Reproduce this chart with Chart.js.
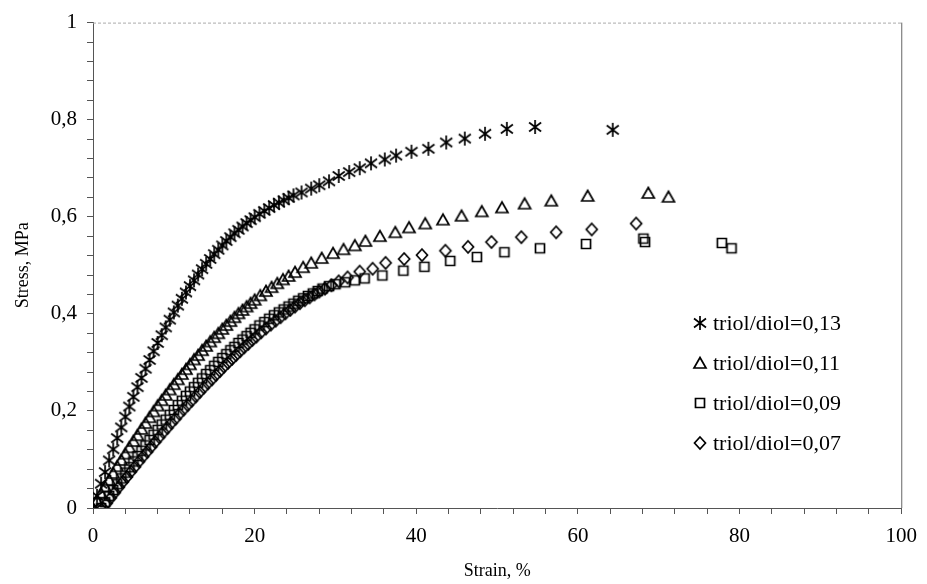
<!DOCTYPE html>
<html>
<head>
<meta charset="utf-8">
<script src="https://cdn.jsdelivr.net/npm/chart.js@4"></script>
<style>
  html, body { margin: 0; padding: 0; background: #fff; }
  #wrap { width: 927px; height: 584px; }
</style>
</head>
<body>
<div id="wrap"><canvas id="c" width="927" height="584"></canvas></div>
<script>
const LABELS = ['triol/diol=0,13', 'triol/diol=0,11', 'triol/diol=0,09', 'triol/diol=0,07'];

const strain13 = [0, 0.5, 1, 1.5, 2, 2.5, 3, 3.5, 4, 4.5, 5, 5.5, 6, 6.5, 7, 7.5, 8, 8.5, 9, 9.5, 10, 10.5, 11, 11.5, 12, 12.5, 13, 13.5, 14, 14.5, 15, 15.5, 16, 16.5, 17, 17.5, 18, 18.5, 19, 19.5, 20, 20.6, 21.2, 21.8, 22.4, 23, 23.6, 24.2, 24.8, 25.8, 27, 28, 29.2, 30.4, 31.7, 33, 34.4, 36.1, 37.5, 39.4, 41.5, 43.7, 46, 48.5, 51.2, 54.7, 64.3];
const stress13 = [0, 0.025, 0.05, 0.074, 0.098, 0.121, 0.144, 0.166, 0.188, 0.209, 0.229, 0.249, 0.268, 0.287, 0.305, 0.323, 0.34, 0.356, 0.372, 0.388, 0.403, 0.417, 0.431, 0.444, 0.457, 0.469, 0.481, 0.492, 0.503, 0.513, 0.523, 0.532, 0.541, 0.55, 0.558, 0.566, 0.573, 0.58, 0.587, 0.593, 0.599, 0.606, 0.612, 0.618, 0.624, 0.629, 0.634, 0.639, 0.644, 0.65, 0.658, 0.665, 0.673, 0.684, 0.692, 0.7, 0.71, 0.718, 0.726, 0.734, 0.74, 0.753, 0.761, 0.771, 0.781, 0.785, 0.779];

const strain11 = [0, 0.5, 1, 1.5, 2, 2.5, 3, 3.5, 4, 4.5, 5, 5.5, 6, 6.5, 7, 7.5, 8, 8.5, 9, 9.5, 10, 10.5, 11, 11.5, 12, 12.5, 13, 13.5, 14, 14.5, 15, 15.5, 16, 16.5, 17, 17.5, 18, 18.5, 19, 19.5, 20, 20.7, 21.4, 22.1, 22.8, 23.5, 24.2, 25, 26, 27, 28.3, 29.7, 31, 32.4, 33.7, 35.5, 37.4, 39.1, 41.1, 43.3, 45.6, 48.1, 50.6, 53.4, 56.7, 61.2, 68.7, 71.2];
const stress11 = [0, 0.015, 0.03, 0.044, 0.058, 0.072, 0.086, 0.099, 0.112, 0.125, 0.138, 0.15, 0.163, 0.175, 0.187, 0.199, 0.211, 0.222, 0.233, 0.244, 0.255, 0.265, 0.276, 0.286, 0.296, 0.306, 0.315, 0.325, 0.334, 0.343, 0.352, 0.36, 0.369, 0.377, 0.385, 0.393, 0.401, 0.408, 0.415, 0.422, 0.429, 0.438, 0.447, 0.455, 0.463, 0.471, 0.478, 0.486, 0.496, 0.505, 0.515, 0.525, 0.533, 0.541, 0.55, 0.56, 0.568, 0.578, 0.586, 0.594, 0.602, 0.611, 0.619, 0.627, 0.633, 0.643, 0.649, 0.641];

const strain09 = [1, 1.5, 2, 2.5, 3, 3.5, 4, 4.5, 5, 5.5, 6, 6.5, 7, 7.5, 8, 8.5, 9, 9.5, 10, 10.5, 11, 11.5, 12, 12.5, 13, 13.5, 14, 14.5, 15, 15.5, 16, 16.5, 17, 17.5, 18, 18.5, 19, 19.5, 20, 20.6, 21.2, 21.8, 22.4, 23, 23.6, 24.2, 24.8, 25.4, 26, 26.6, 27.2, 27.8, 28.4, 29.2, 30, 31.2, 32.4, 33.6, 35.8, 38.4, 41, 44.2, 47.5, 50.9, 55.3, 61, 68.1, 68.3, 77.8, 79];
const stress09 = [0, 0.012, 0.025, 0.037, 0.049, 0.061, 0.073, 0.084, 0.096, 0.107, 0.118, 0.129, 0.14, 0.151, 0.161, 0.172, 0.182, 0.192, 0.202, 0.212, 0.221, 0.231, 0.24, 0.249, 0.258, 0.267, 0.276, 0.284, 0.293, 0.301, 0.309, 0.317, 0.325, 0.332, 0.34, 0.347, 0.354, 0.361, 0.368, 0.376, 0.383, 0.39, 0.397, 0.403, 0.409, 0.415, 0.421, 0.427, 0.432, 0.437, 0.442, 0.447, 0.452, 0.457, 0.461, 0.465, 0.469, 0.473, 0.479, 0.489, 0.497, 0.509, 0.517, 0.527, 0.535, 0.544, 0.555, 0.548, 0.546, 0.535];

const strain07 = [1.2, 1.7, 2.2, 2.7, 3.2, 3.7, 4.2, 4.7, 5.2, 5.7, 6.2, 6.7, 7.2, 7.7, 8.2, 8.7, 9.2, 9.7, 10.2, 10.7, 11.2, 11.7, 12.2, 12.7, 13.2, 13.7, 14.2, 14.7, 15.2, 15.7, 16.2, 16.7, 17.2, 17.7, 18.2, 18.7, 19.2, 19.7, 20.2, 20.8, 21.4, 22, 22.6, 23.2, 23.8, 24.4, 25, 25.6, 26.2, 26.8, 27.4, 28, 28.7, 29.5, 30.4, 31.5, 33, 34.6, 36.2, 38.5, 40.7, 43.6, 46.4, 49.3, 53, 57.3, 61.7, 67.2];
const stress07 = [0, 0.01, 0.021, 0.032, 0.043, 0.054, 0.064, 0.075, 0.085, 0.096, 0.106, 0.116, 0.126, 0.136, 0.146, 0.156, 0.165, 0.175, 0.184, 0.194, 0.203, 0.212, 0.221, 0.23, 0.239, 0.248, 0.257, 0.265, 0.274, 0.282, 0.291, 0.299, 0.307, 0.315, 0.323, 0.331, 0.338, 0.346, 0.353, 0.362, 0.37, 0.378, 0.386, 0.393, 0.401, 0.408, 0.415, 0.422, 0.428, 0.434, 0.44, 0.446, 0.452, 0.459, 0.467, 0.475, 0.487, 0.493, 0.505, 0.513, 0.521, 0.53, 0.538, 0.548, 0.558, 0.568, 0.574, 0.586];

const X_MAJOR = [0, 20, 40, 60, 80, 100];

function pairs(xs, ys) {
  return xs.map((x, i) => ({ x, y: ys[i] }));
}

// hand drawn marker glyphs, like the scanned excel symbols
function marker(kind) {
  const c = document.createElement('canvas');
  c.width = 16; c.height = 16;
  const g = c.getContext('2d');
  g.strokeStyle = '#000';
  g.lineWidth = 1.7;
  g.beginPath();
  if (kind === 'asterisk') {
    g.moveTo(8, 1); g.lineTo(8, 15);
    g.moveTo(2, 3.5); g.lineTo(14, 12.5);
    g.moveTo(2, 12.5); g.lineTo(14, 3.5);
  } else if (kind === 'triangle') {
    g.moveTo(8, 2.5); g.lineTo(14, 13); g.lineTo(2, 13); g.closePath();
  } else if (kind === 'square') {
    g.rect(3.5, 3.5, 9, 9);
  } else {
    g.moveTo(8, 2); g.lineTo(13.5, 8); g.lineTo(8, 14); g.lineTo(2.5, 8); g.closePath();
  }
  g.stroke();
  return c;
}

const MARKERS = [marker('asterisk'), marker('triangle'), marker('square'), marker('diamond')];

const serif = '"Liberation Serif", "Times New Roman", serif';
const axisColor = '#555';

const frame = {
  id: 'frame',
  afterDraw(chart) {
    const { ctx, chartArea: a } = chart;
    ctx.save();
    ctx.strokeStyle = '#aaa';
    ctx.lineWidth = 1;
    ctx.setLineDash([3, 2]);
    ctx.beginPath();
    ctx.moveTo(a.left, a.top + 0.5); ctx.lineTo(a.right, a.top + 0.5);
    ctx.stroke();
    ctx.setLineDash([]);
    ctx.strokeStyle = '#666';
    ctx.beginPath();
    ctx.moveTo(a.right + 0.5, a.top); ctx.lineTo(a.right + 0.5, a.bottom);
    ctx.stroke();

    // legend inside the plot, lower right
    ctx.font = '22px ' + serif;
    ctx.fillStyle = '#000';
    ctx.textBaseline = 'middle';
    chart.data.datasets.forEach((ds, i) => {
      const y = 323 + i * 40;
      ctx.drawImage(ds.pointStyle, 700 - 8, y - 8);
      ctx.fillText(ds.label, 713, y + 1);
    });
    ctx.restore();
  }
};

const datasets = [
  [strain13, stress13], [strain11, stress11], [strain09, stress09], [strain07, stress07]
].map(([xs, ys], i) => ({
  label: LABELS[i],
  data: pairs(xs, ys),
  pointStyle: MARKERS[i],
  pointRadius: 6,
  showLine: false,
}));

new Chart(document.getElementById('c'), {
  type: 'scatter',
  data: { datasets },
  options: {
    responsive: false,
    animation: false,
    events: [],
    layout: { padding: { top: 15, right: 19, left: 0, bottom: 0 } },
    plugins: { legend: { display: false }, tooltip: { enabled: false } },
    scales: {
      x: {
        type: 'linear', min: 0, max: 100,
        afterFit: s => { s.height = 76; },
        border: { color: axisColor, width: 1 },
        grid: { drawOnChartArea: false, drawTicks: true, tickLength: 6, color: axisColor },
        ticks: {
          stepSize: 4, autoSkip: false, maxRotation: 0, padding: 10,
          color: '#000', font: { family: serif, size: 21 },
          callback: v => X_MAJOR.includes(Math.round(v)) && Math.abs(v - Math.round(v)) < 1e-6 ? String(Math.round(v)) : ''
        },
        title: { display: true, text: 'Strain, %', color: '#000', font: { family: serif, size: 18 }, padding: { top: 0, bottom: 2 } }
      },
      y: {
        type: 'linear', min: 0, max: 1,
        afterFit: s => { s.width = 93; },
        border: { color: axisColor, width: 1 },
        grid: { drawOnChartArea: false, drawTicks: true, tickLength: 6, color: axisColor },
        ticks: {
          stepSize: 0.04, autoSkip: false, padding: 10,
          color: '#000', font: { family: serif, size: 21 },
          callback: v => {
            const r = Math.round(v * 100);
            if (r % 20 !== 0) return '';
            if (r === 0) return '0';
            if (r === 100) return '1';
            return (r / 100).toFixed(1).replace('.', ',');
          }
        },
        title: { display: true, text: 'Stress, MPa', color: '#000', font: { family: serif, size: 18 }, padding: { top: 12, bottom: 0 } }
      }
    }
  },
  plugins: [frame]
});
</script>
</body>
</html>
